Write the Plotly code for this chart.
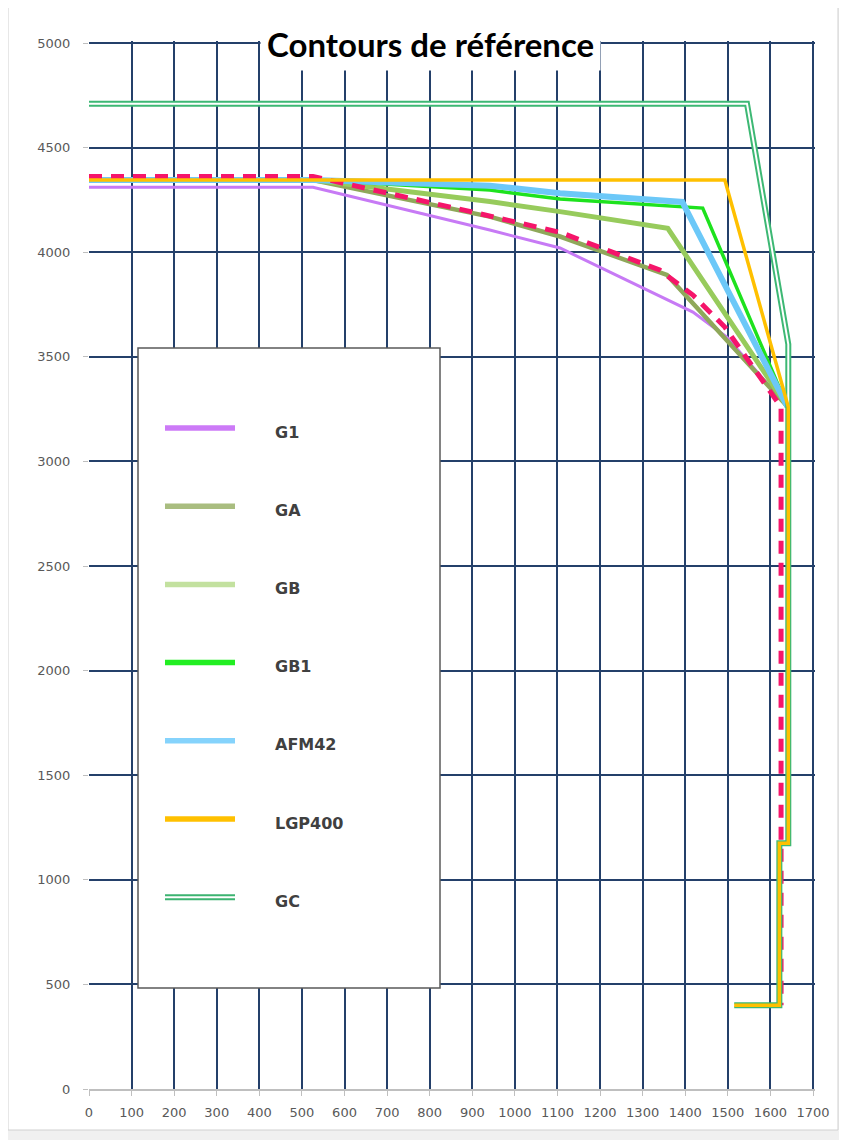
import plotly.graph_objects as go

# ---------------- data ----------------
g1_x = [0, 526, 941, 1106, 1418, 1497, 1640]
g1_y = [4310, 4310, 4106, 4020, 3714, 3595, 3262]

ga_x = [0, 526, 941, 1106, 1357, 1640]
ga_y = [4345, 4345, 4170, 4075, 3891, 3262]

gb_x = [0, 526, 941, 1106, 1359, 1640]
gb_y = [4345, 4345, 4242, 4194, 4114, 3262]

gb1_x = [0, 526, 941, 1106, 1441, 1640]
gb1_y = [4345, 4345, 4297, 4254, 4211, 3262]

afm42_x = [0, 526, 941, 1106, 1393, 1640]
afm42_y = [4345, 4345, 4318, 4282, 4240, 3262]

ref_x = [0, 526, 894, 1106, 1340, 1418, 1493, 1559, 1625, 1625]
ref_y = [4362, 4362, 4195, 4095, 3915, 3795, 3642, 3451, 3260, 400]

gc_x = [0, 1545, 1642, 1642, 1621, 1621, 1515]
gc_y = [4710, 4710, 3560, 1175, 1175, 400, 400]

lgp400_x = [0, 1493, 1642, 1642, 1621, 1621, 1515]
lgp400_y = [4345, 4345, 3260, 1175, 1175, 400, 400]

x_ticks = list(range(0, 1701, 100))
y_ticks = list(range(0, 5001, 500))

legend_names = ["G1", "GA", "GB", "GB1", "AFM42", "LGP400", "GC"]
legend_colors = ["#CC7AF7", "#A9BD80", "#C3E19F", "#22EE22", "#85D3FC", "#FFC000", "#3CB371"]

# ---------------- figure ----------------
fig = go.Figure()


def add_line(x, y, name, color, width, dash="solid"):
    fig.add_trace(go.Scatter(x=x, y=y, name=name, mode="lines",
                             line=dict(color=color, width=width, dash=dash),
                             showlegend=False, hoverinfo="x+y+name"))


add_line(g1_x, g1_y, "G1", "#C77AF5", 3)
add_line(ga_x, ga_y, "GA", "#8FA85A", 4.5)
add_line(gb_x, gb_y, "GB", "#97CB5C", 5)
add_line(gb1_x, gb1_y, "GB1", "#1EE21E", 3.5)
add_line(afm42_x, afm42_y, "AFM42", "#6CC8F8", 6)
add_line(ref_x, ref_y, "Référence", "#F5156A", 5, dash="13px,9px")
add_line(gc_x, gc_y, "GC", "#3DB874", 6)
add_line(gc_x, gc_y, "GC", "#FFFFFF", 2)
add_line(lgp400_x, lgp400_y, "LGP400", "#FFC000", 3.5)

# the page body has an 8px margin: figure origin sits at page (8, 8)
OFF = 8
W, H = 847, 1140
ML, MR, MT, MB = 81, 40, 33, 59          # margins (figure px)
PW = W - ML - MR                           # plot width px
PH = H - MT - MB                           # plot height px
X_PER_PX = 1700 / 724.0
Y_PER_PX = 5000 / 1046.0


def px(page_x):
    return (page_x - OFF - ML) / PW


def py(page_y):
    return (H - MB - (page_y - OFF)) / PH


shapes = []
# outer white chart area with light border
shapes.append(dict(type="rect", xref="paper", yref="paper", layer="below",
                   x0=px(8), x1=px(838), y0=py(1130), y1=py(7),
                   fillcolor="white", line=dict(color="#D0D0D0", width=1)))
# legend box
shapes.append(dict(type="rect", xref="paper", yref="paper", layer="above",
                   x0=px(138), x1=px(440), y0=py(988), y1=py(348),
                   fillcolor="white", line=dict(color="#5A5A5A", width=1.5)))

annotations = []
first_y, step_y = 428, 78.2
for i, (name, col) in enumerate(zip(legend_names, legend_colors)):
    yy = py(first_y + i * step_y)
    if name == "GC":
        shapes.append(dict(type="line", xref="paper", yref="paper", layer="above",
                           x0=px(165), x1=px(235), y0=yy, y1=yy,
                           line=dict(color=col, width=6)))
        shapes.append(dict(type="line", xref="paper", yref="paper", layer="above",
                           x0=px(165), x1=px(235), y0=yy, y1=yy,
                           line=dict(color="white", width=2)))
    else:
        shapes.append(dict(type="line", xref="paper", yref="paper", layer="above",
                           x0=px(165), x1=px(235), y0=yy, y1=yy,
                           line=dict(color=col, width=5.5)))
    annotations.append(dict(xref="paper", yref="paper", x=px(273), y=py(first_y + i * step_y + 4),
                            text="<b>" + name + "</b>", showarrow=False,
                            xanchor="left", yanchor="middle",
                            font=dict(family="DejaVu Sans", size=16, color="#404040")))

# title
annotations.append(dict(xref="paper", yref="paper", x=px(430), y=py(44),
                        text="<b>Contours de référence</b>", showarrow=False,
                        xanchor="center", yanchor="middle",
                        bgcolor="white", borderpad=6,
                        font=dict(family="Lato, Liberation Sans, Arial", size=33, color="#000000")))

grid_col = "#24406A"
fig.update_layout(
    width=W, height=H, autosize=False,
    margin=dict(l=ML, r=MR, t=MT, b=MB, pad=0),
    paper_bgcolor="#F0F0F0", plot_bgcolor="white",
    shapes=shapes, annotations=annotations,
    showlegend=False,
    xaxis=dict(range=[0, PW * X_PER_PX], tickvals=x_ticks, ticktext=[str(v) for v in x_ticks],
               showgrid=True, gridcolor=grid_col, gridwidth=2,
               zeroline=False,
               showline=True, linecolor="#BFBFBF", linewidth=1.5,
               ticks="outside", ticklen=5, tickcolor="#BFBFBF",
               tickfont=dict(family="DejaVu Sans", size=13, color="#595959"),
               ticklabelstandoff=6, fixedrange=True),
    yaxis=dict(range=[0, PH * Y_PER_PX], tickvals=y_ticks, ticktext=[str(v) for v in y_ticks],
               showgrid=True, gridcolor=grid_col, gridwidth=2,
               zeroline=False, showline=False,
               ticks="outside", ticklen=5, tickcolor="#BFBFBF",
               tickfont=dict(family="DejaVu Sans", size=13, color="#595959"),
               ticklabelstandoff=10, fixedrange=True),
)

fig.write_html("out.html")
